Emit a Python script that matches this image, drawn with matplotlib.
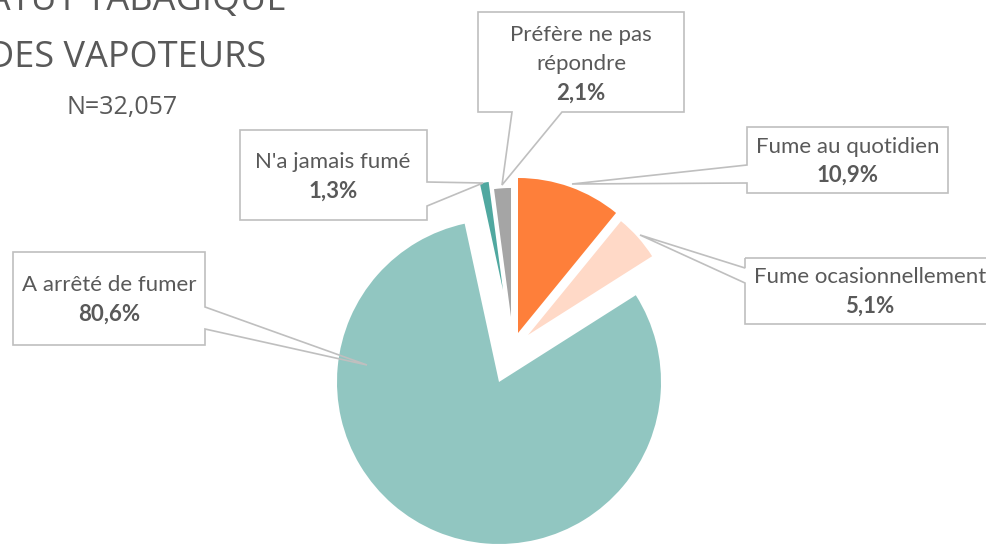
import matplotlib
matplotlib.use("Agg")
import matplotlib.pyplot as plt
from matplotlib.patches import Polygon

# data
labels = ["Fume au quotidien", "Fume ocasionnellement", "A arrêté de fumer",
          "N'a jamais fumé", "Préfère ne pas\nrépondre"]
values = [10.9, 5.1, 80.6, 1.3, 2.1]
pct_labels = ["10,9%", "5,1%", "80,6%", "1,3%", "2,1%"]
colors = ["#FE7F3A", "#FFD9C7", "#91C6C1", "#50A8A0", "#A5A5A5"]

W, H = 986, 546
fig = plt.figure(figsize=(W / 100, H / 100), dpi=100)
ax = fig.add_axes([0, 0, 1, 1])

def Y(y):
    # image row -> data y
    return H - y

# slice apex positions (image px) and radii
apex = [(518, 333), (528, 335), (499, 382), (503, 290), (511, 317)]
radii = [155, 147, 162, 109, 129]

wedges, _ = ax.pie(values, colors=colors, startangle=90, counterclock=False,
                   wedgeprops=dict(linewidth=0))
for w, (cx, cy), r in zip(wedges, apex, radii):
    w.set_center((cx, Y(cy)))
    w.set_radius(r)

ax.set_xlim(0, W)
ax.set_ylim(0, H)
ax.set_aspect("auto")
ax.axis("off")

txt_col = "#595959"
edge_col = "#BFBFBF"
font = "Lato"

def callout(x0, y0, x1, y1, side, b1, b2, tip):
    pts = [(x0, y0), (x1, y0)]
    if side == "right":
        pts += [(x1, b1), tip, (x1, b2)]
    pts.append((x1, y1))
    if side == "bottom":
        pts += [(b2, y1), tip, (b1, y1)]
    pts.append((x0, y1))
    if side == "left":
        pts += [(x0, b2), tip, (x0, b1)]
    poly = Polygon([(x, Y(y)) for x, y in pts], closed=True, facecolor="none",
                   edgecolor=edge_col, linewidth=1.2, zorder=5)
    ax.add_patch(poly)

# callouts: box, pointer side, pointer base, tip, text centre, line ys
boxes = [
    dict(box=(747, 127, 948, 193), side="left", b=(165, 183), tip=(572, 184), tx=848, ty=(147, 175)),
    dict(box=(745, 258, 1000, 324), side="left", b=(268, 283), tip=(640, 235), tx=870, ty=(277, 306)),
    dict(box=(13, 252, 205, 345), side="right", b=(307, 329), tip=(367, 365), tx=109, ty=(285, 314)),
    dict(box=(240, 130, 427, 220), side="right", b=(182, 206), tip=(483, 183), tx=333, ty=(162, 191)),
    dict(box=(478, 12, 684, 112), side="bottom", b=(512, 562), tip=(502, 185), tx=581, ty=(35, 64, 93)),
]
for lab, pct, c in zip(labels, pct_labels, boxes):
    x0, y0, x1, y1 = c["box"]
    callout(x0, y0, x1, y1, c["side"], c["b"][0], c["b"][1], c["tip"])
    lines = lab.split("\n")
    for line, yy in zip(lines, c["ty"]):
        ax.text(c["tx"], Y(yy), line, ha="center", va="center", fontsize=16,
                color=txt_col, family=font, zorder=6)
    ax.text(c["tx"], Y(c["ty"][-1]), pct, ha="center", va="center", fontsize=16,
            color=txt_col, family=font, fontweight="bold", zorder=6)

# title (cut off at the top like the original)
title_font = "Open Sans"
ax.text(287, Y(10), "STATUT TABAGIQUE", ha="right", va="baseline", fontsize=26,
        color=txt_col, family=title_font)
ax.text(266, Y(67), "DES VAPOTEURS", ha="right", va="baseline", fontsize=26,
        color=txt_col, family=title_font)
ax.text(122, Y(114), "N=32,057", ha="center", va="baseline", fontsize=18,
        color=txt_col, family=title_font)

fig.savefig("out.png", dpi=100)
